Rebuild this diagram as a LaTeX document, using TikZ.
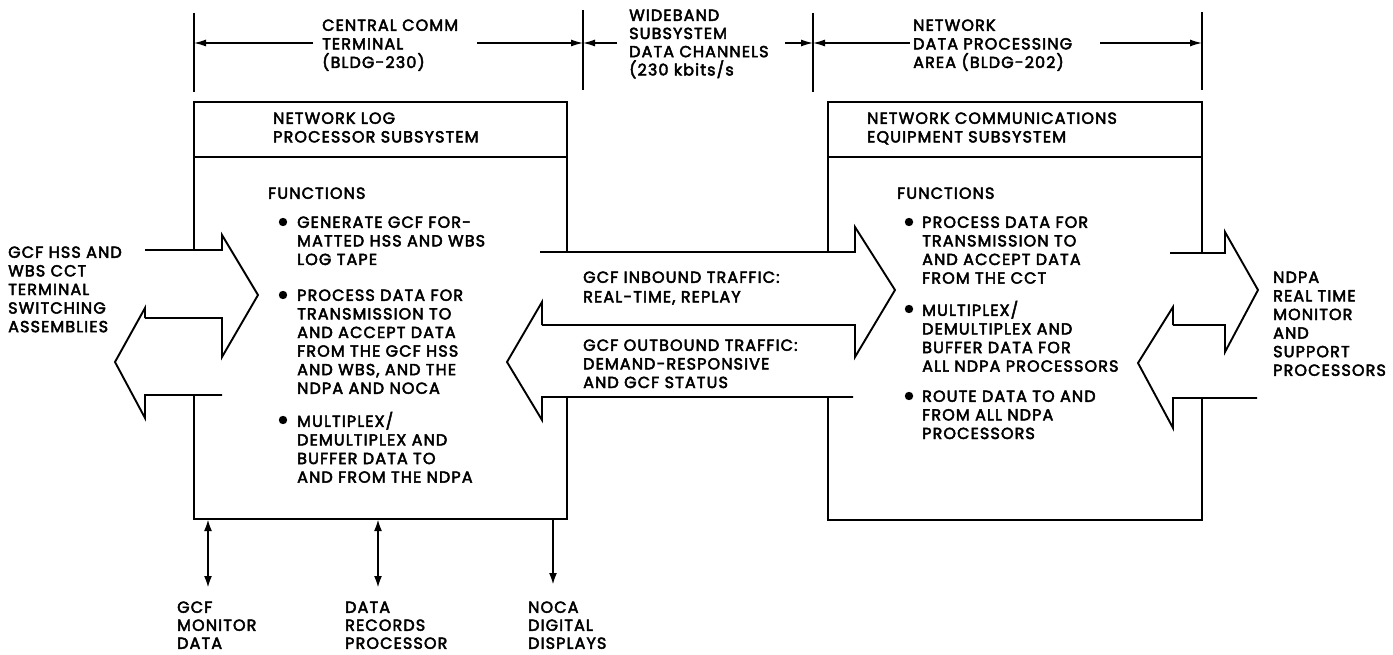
\documentclass[tikz,border=0pt]{standalone}
\usepackage{fontspec}
\setmainfont{Poppins}[FakeBold=3, LetterSpace=7]
\usetikzlibrary{arrows.meta}
\newcommand\firststrut{\rule{0pt}{14pt}}
\begin{document}
\begin{tikzpicture}[x=1pt,y=-1pt,
  lbl/.style={anchor=north west, inner sep=0pt, align=left, yshift=8.4pt,
              font=\fontsize{16}{18.6}\selectfont},
  boxline/.style={line width=1.6pt},
  fat/.style={line width=1.9pt, line join=miter},
  dim/.style={line width=1.2pt},
  dimtip/.style={-{Latex[length=12pt,width=7pt]}},
  io/.style={line width=2.2pt, {Latex[length=12pt,width=8pt]}-{Latex[length=12pt,width=8pt]}},
  iodown/.style={line width=2.2pt, -{Latex[length=12pt,width=8pt]}},
  bul/.style={fill=black}
]
\useasboundingbox[fill=white] (0,0) rectangle (1393,655);

% ---- dimension ticks
\foreach \n/\x/\a/\b in {t1/194/13/92, t2/583/10/90, t3/813/13/92, t4/1202/12/90}{
  \coordinate (\n a) at (\x,\a);
  \coordinate (\n b) at (\x,\b);
  \coordinate (\n m) at (\x,43);
  \draw[dim] (\n a) -- (\n b);
}
% ---- dimension labels
\node[lbl] (cct) at (322,25) {\firststrut CENTRAL COMM\\TERMINAL\\(BLDG-230)};
\node[lbl,font=\fontsize{16}{18.2}\selectfont] (wbs) at (629,15) {\firststrut WIDEBAND\\SUBSYSTEM\\DATA CHANNELS\\(230 kbits/s};
\node[lbl] (ndpa) at (913,25) {\firststrut NETWORK\\DATA PROCESSING\\AREA (BLDG-202)};
% dimension arrows
\coordinate (d1) at (313,43);
\coordinate (d2) at (477,43);
\coordinate (d3) at (617,43);
\coordinate (d4) at (785,43);
\coordinate (d5) at (910,43);
\coordinate (d6) at (1100,43);
\draw[dim,dimtip] (d1) -- (t1m);
\draw[dim,dimtip] (d2) -- (t2m);
\draw[dim,dimtip] (d3) -- (t2m);
\draw[dim,dimtip] (d4) -- (t3m);
\draw[dim,dimtip] (d5) -- (t3m);
\draw[dim,dimtip] (d6) -- (t4m);

% ---- left box (Network Log Processor Subsystem)
\draw[boxline] (194,250) -- (194,102) -- (567,102) -- (567,252);
\draw[boxline] (194,157) -- (567,157);
\draw[boxline] (194,395) -- (194,519) -- (567,519) -- (567,397);
\node[lbl] (nlp) at (273,118) {\firststrut NETWORK LOG\\PROCESSOR SUBSYSTEM};
\node[lbl] (lfun) at (268,193) {\firststrut FUNCTIONS};
\fill[bul] (283,222) circle (4.2);
\node[lbl] (l1) at (297,222) {\firststrut GENERATE GCF FOR-\\MATTED HSS AND WBS\\LOG TAPE};
\fill[bul] (283,295) circle (4.2);
\node[lbl] (l2) at (297,295) {\firststrut PROCESS DATA FOR\\TRANSMISSION TO\\AND ACCEPT DATA\\FROM THE GCF HSS\\AND WBS, AND THE\\NDPA AND NOCA};
\fill[bul] (283,420) circle (4.2);
\node[lbl] (l3) at (297,420) {\firststrut MULTIPLEX/\\DEMULTIPLEX AND\\BUFFER DATA TO\\AND FROM THE NDPA};

% ---- right box (Network Communications Equipment Subsystem)
\draw[boxline] (828,252) -- (828,102) -- (1202,102) -- (1202,253);
\draw[boxline] (828,157) -- (1202,157);
\draw[boxline] (828,397) -- (828,520) -- (1202,520) -- (1202,398);
\node[lbl] (nce) at (867,118) {\firststrut NETWORK COMMUNICATIONS\\EQUIPMENT SUBSYSTEM};
\node[lbl] (rfun) at (897,193) {\firststrut FUNCTIONS};
\fill[bul] (909,222) circle (4.2);
\node[lbl] (r1) at (922,222) {\firststrut PROCESS DATA FOR\\TRANSMISSION TO\\AND ACCEPT DATA\\FROM THE CCT};
\fill[bul] (909,309) circle (4.2);
\node[lbl] (r2) at (922,309) {\firststrut MULTIPLEX/\\DEMULTIPLEX AND\\BUFFER DATA FOR\\ALL NDPA PROCESSORS};
\fill[bul] (909,396) circle (4.2);
\node[lbl] (r3) at (922,396) {\firststrut ROUTE DATA TO AND\\FROM ALL NDPA\\PROCESSORS};

% ---- big arrows, left pair
\draw[fat] (145,250) -- (222,250) -- (222,235) -- (258,295) -- (222,357) -- (222,318) -- (145,318);
\draw[fat] (222,395) -- (145,395) -- (145,418) -- (115,362) -- (145,308) -- (145,318);
% ---- middle pair
\draw[fat] (540,252) -- (855,252) -- (855,227) -- (895,290) -- (855,357) -- (855,325) -- (542,325);
\draw[fat] (853,397) -- (542,397) -- (542,420) -- (507,362) -- (542,302) -- (542,325);
% ---- right pair
\draw[fat] (1170,253) -- (1225,253) -- (1225,232) -- (1258,290) -- (1225,352) -- (1225,325) -- (1173,325);
\draw[fat] (1257,398) -- (1173,398) -- (1173,428) -- (1138,363) -- (1173,307) -- (1173,325);

% ---- outside labels
\node[lbl] (gcfhss) at (8,252) {\firststrut GCF HSS AND\\WBS CCT\\TERMINAL\\SWITCHING\\ASSEMBLIES};
\node[lbl,font=\fontsize{16}{19.5}\selectfont] (inb) at (583,277) {\firststrut GCF INBOUND TRAFFIC:\\REAL-TIME, REPLAY};
\node[lbl] (outb) at (583,345) {\firststrut GCF OUTBOUND TRAFFIC:\\DEMAND-RESPONSIVE\\AND GCF STATUS};
\node[lbl] (rt) at (1273,277) {\firststrut NDPA\\REAL TIME\\MONITOR\\AND\\SUPPORT\\PROCESSORS};

% ---- bottom connectors
\node[lbl,font=\fontsize{16}{18}\selectfont] (mon) at (177,607) {\firststrut GCF\\MONITOR\\DATA};
\node[lbl,font=\fontsize{16}{18}\selectfont] (drp) at (345,607) {\firststrut DATA\\RECORDS\\PROCESSOR};
\node[lbl,font=\fontsize{16}{18}\selectfont] (noca) at (528,607) {\firststrut NOCA\\DIGITAL\\DISPLAYS};
\coordinate (b1) at (208,519); \coordinate (e1) at (208,588);
\coordinate (b2) at (378,519); \coordinate (e2) at (378,588);
\coordinate (b3) at (553,519); \coordinate (e3) at (553,585);
\draw[io] (b1) -- (e1);
\draw[io] (b2) -- (e2);
\draw[iodown] (b3) -- (e3);
\end{tikzpicture}
\end{document}
